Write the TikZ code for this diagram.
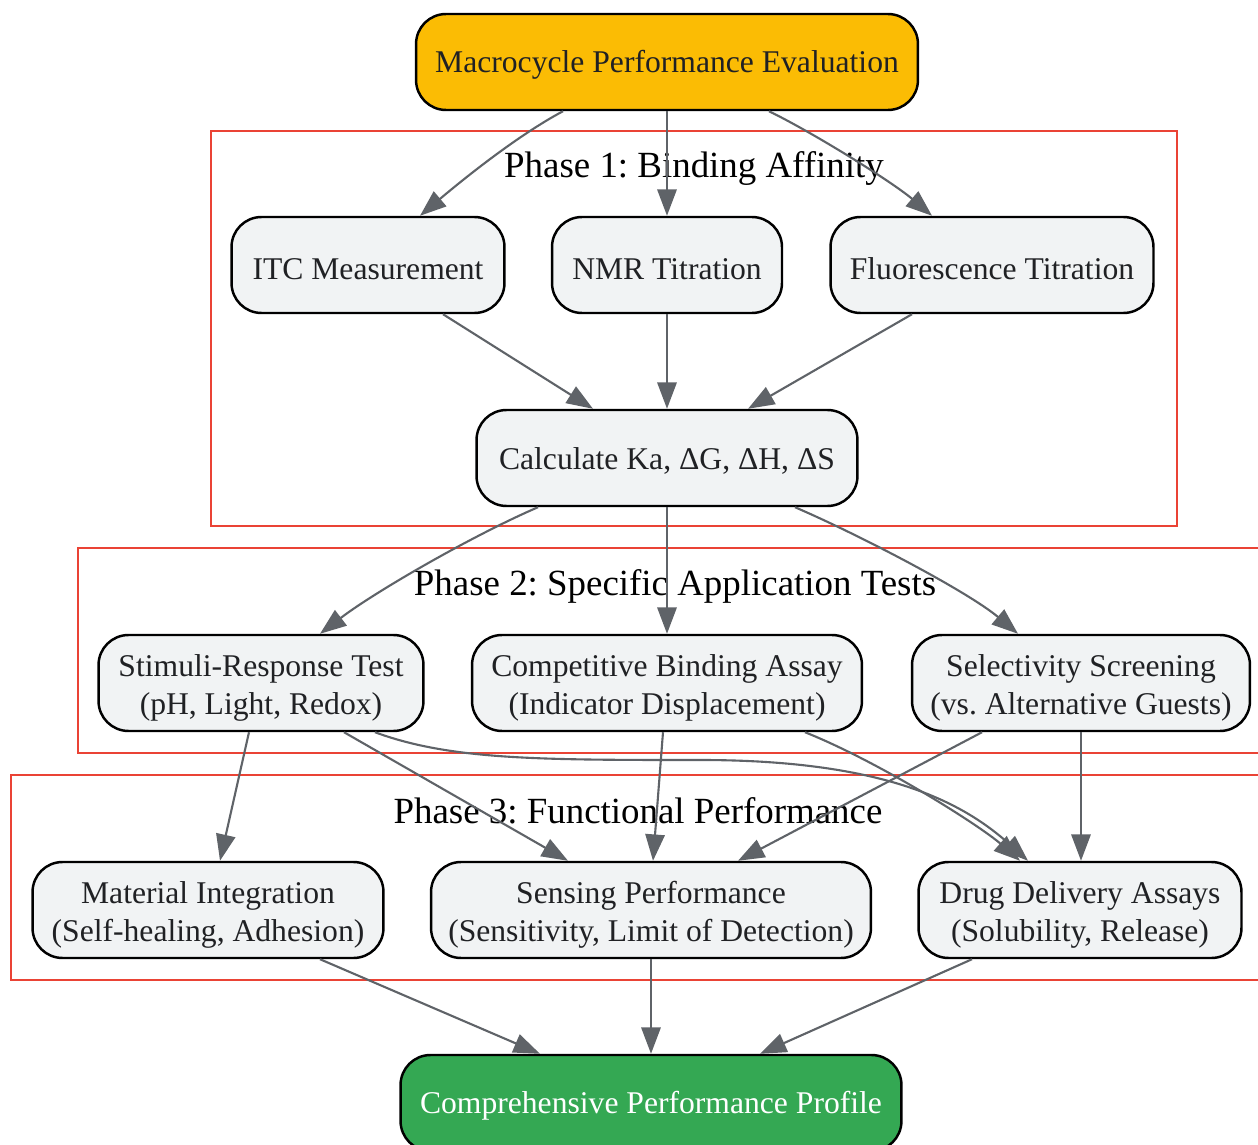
\documentclass[tikz,border=0pt]{standalone}
\usepackage{fontspec}
\setmainfont{Liberation Serif}
\usetikzlibrary{arrows.meta,calc}
\definecolor{boxfill}{HTML}{F1F3F4}
\definecolor{topfill}{HTML}{FBBC04}
\definecolor{endfill}{HTML}{34A853}
\definecolor{edgegray}{HTML}{5F6368}
\definecolor{phasered}{HTML}{EA4335}
\definecolor{textdark}{HTML}{202124}
\newcommand{\lineup}{\rule{0pt}{17.6pt}}
\frenchspacing
\begin{document}
\begin{tikzpicture}[x=0.02cm, y=-0.02cm,
		stepbox/.style={draw=black, line width=1.4pt, rounded corners=0.6cm, fill=boxfill,
			minimum height=1.92cm, align=center, inner sep=2pt, text=textdark,
			font=\fontsize{18}{21.6}\selectfont},
		oneline/.style={execute at begin node={\rule{0pt}{16.2pt}}},
		phase/.style={draw=phasered, line width=1.1pt},
		phaselabel/.style={font=\fontsize{21}{25}\selectfont},
		edge/.style={-{Triangle[length=15pt,width=11pt]}, draw=edgegray, line width=1.2pt}]
		\useasboundingbox (0,0) rectangle (1258,1145);
		% phases
		\draw[phase] (211,131) rectangle (1177,526);
		\draw[phase] (78,548) rectangle (1300,753);
		\draw[phase] (11,775) rectangle (1300,980);
		\node[phaselabel] (p1) at (694,168) {Phase 1: Binding Affinity};
		\node[phaselabel] (p2) at (675,586) {Phase 2: Specific Application Tests};
		\node[phaselabel] (p3) at (638,811) {Phase 3: Functional Performance};
		% nodes
		\node[stepbox, oneline, fill=topfill, minimum width=10.04cm] (eval) at (667,62) {Macrocycle Performance Evaluation};
		\node[stepbox, oneline, minimum width=5.46cm] (itc) at (368,265) {ITC Measurement};
		\node[stepbox, oneline, minimum width=4.6cm] (nmr) at (667,265) {NMR Titration};
		\node[stepbox, oneline, minimum width=6.46cm] (fluor) at (992,265) {Fluorescence Titration};
		\node[stepbox, oneline, minimum width=7.62cm] (calc) at (667,458) {Calculate Ka, ΔG, ΔH, ΔS};
		\node[stepbox, minimum width=6.5cm] (stim) at (261,683) {\lineup Stimuli-Response Test\\(pH, Light, Redox)};
		\node[stepbox, minimum width=7.8cm] (comp) at (667,683) {\lineup Competitive Binding Assay\\(Indicator Displacement)};
		\node[stepbox, minimum width=6.76cm] (sel) at (1081,683) {\lineup Selectivity Screening\\(vs. Alternative Guests)};
		\node[stepbox, minimum width=7.02cm] (mat) at (208,910) {\lineup Material Integration\\(Self-healing, Adhesion)};
		\node[stepbox, minimum width=8.8cm] (sens) at (651,910) {\lineup Sensing Performance\\(Sensitivity, Limit of Detection)};
		\node[stepbox, minimum width=6.46cm] (drug) at (1080,910) {\lineup Drug Delivery Assays\\(Solubility, Release)};
		\node[stepbox, oneline, fill=endfill, text=white, minimum width=10.02cm] (profile) at (651,1103) {Comprehensive Performance Profile};
		% phase 1
		\draw[edge] ($(eval.south)+(-104,0)$) .. controls +(-45,24) and +(45,-38) .. ($(itc.north)+(52,0)$);
		\draw[edge] (eval.south) -- (nmr.north);
		\draw[edge] ($(eval.south)+(102,0)$) .. controls +(45,22) and +(-40,-34) .. ($(fluor.north)+(-60,0)$);
		\draw[edge] ($(itc.south)+(75,0)$) -- ($(calc.north)+(-74,0)$);
		\draw[edge] (nmr.south) -- (calc.north);
		\draw[edge] ($(fluor.south)+(-80,0)$) -- ($(calc.north)+(81,0)$);
		% phase 2
		\draw[edge] ($(calc.south)+(-129,0)$) .. controls +(-65,28) and +(55,-42) .. ($(stim.north)+(59,0)$);
		\draw[edge] (calc.south) -- (comp.north);
		\draw[edge] ($(calc.south)+(128,0)$) .. controls +(65,28) and +(-50,-42) .. ($(sel.north)+(-63,0)$);
		% phase 3
		\draw[edge] ($(stim.south)+(-12,0)$) -- ($(mat.north)+(12,0)$);
		\draw[edge] ($(stim.south)+(83,0)$) -- ($(sens.north)+(-83,0)$);
		\draw[edge] ($(stim.south)+(114,0)$) .. controls (450,760) and (540,760) .. (700,760)
			.. controls (880,760) and (960,800) .. ($(drug.north)+(-52,0)$);
		\draw[edge] ($(comp.south)+(-4,0)$) -- ($(sens.north)+(2,0)$);
		\draw[edge] ($(comp.south)+(138,0)$) .. controls +(75,30) and +(-40,-35) .. ($(drug.north)+(-60,0)$);
		\draw[edge] ($(sel.south)+(-99,0)$) -- ($(sens.north)+(87,0)$);
		\draw[edge] (sel.south) -- (sel.south |- drug.north);
		% profile
		\draw[edge] ($(mat.south)+(112,0)$) -- ($(profile.north)+(-111,0)$);
		\draw[edge] (sens.south) -- (profile.north);
		\draw[edge] ($(drug.south)+(-108,0)$) -- ($(profile.north)+(109,0)$);
	\end{tikzpicture}
\end{document}
